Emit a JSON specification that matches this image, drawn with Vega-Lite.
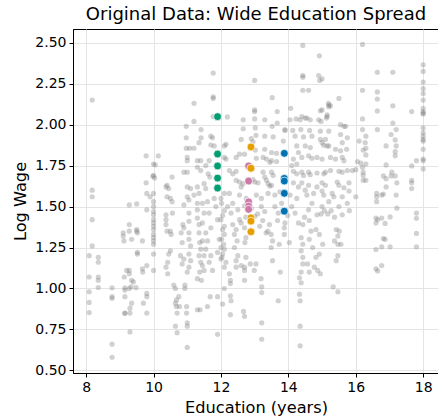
{
"$schema": "https://vega.github.io/schema/vega-lite/v6.json",
"width": 366, "height": 344,
"autosize": {"type": "none"},
"padding": {"left": 73, "top": 29, "right": 0, "bottom": 46},
"title": {"text": "Original Data: Wide Education Spread", "font": "DejaVu Sans", "fontSize": 18, "fontWeight": "normal", "color": "black", "offset": 5, "anchor": "middle"},
"config": {
 "view": {"stroke": "black", "strokeWidth": 1},
 "axis": {"labelFont": "DejaVu Sans", "labelFontSize": 14, "labelColor": "black", "titleFont": "DejaVu Sans", "titleFontSize": 16.2, "titleFontWeight": "normal", "titleColor": "black", "domainColor": "black", "tickColor": "black", "tickSize": 4, "gridColor": "#e4e4e4", "gridWidth": 1}
},
"datasets": {
 "gray": [
{"educ":8.18,"lw":2.15},{"educ":8.18,"lw":1.60},{"educ":8.18,"lw":1.56},{"educ":8.18,"lw":1.42},{"educ":8.18,"lw":1.26},
{"educ":8.09,"lw":1.20},{"educ":8.09,"lw":1.07},{"educ":8.09,"lw":0.98},{"educ":8.09,"lw":0.915},{"educ":8.09,"lw":0.853},
{"educ":8.36,"lw":1.19},{"educ":8.36,"lw":1.16},{"educ":8.36,"lw":1.07},{"educ":8.36,"lw":1.05},{"educ":8.36,"lw":1.006},
{"educ":8.77,"lw":1.004},{"educ":8.77,"lw":0.95},{"educ":8.77,"lw":0.94},{"educ":8.77,"lw":0.66},{"educ":8.77,"lw":0.58},
{"educ":9.15,"lw":1.004},{"educ":9.15,"lw":0.95},{"educ":9.15,"lw":0.85},{"educ":9.13,"lw":1.07},{"educ":9.2,"lw":1.11},
{"educ":9.28,"lw":1.51},{"educ":9.5,"lw":1.516},{"educ":9.28,"lw":1.39},{"educ":9.28,"lw":1.35},{"educ":9.1,"lw":1.34},
{"educ":9.1,"lw":1.32},{"educ":9.12,"lw":1.29},{"educ":9.35,"lw":1.30},{"educ":9.5,"lw":1.36},{"educ":9.5,"lw":1.35},
{"educ":9.52,"lw":1.34},{"educ":9.67,"lw":1.29},{"educ":9.52,"lw":1.22},{"educ":9.52,"lw":1.21},{"educ":9.28,"lw":1.11},
{"educ":9.28,"lw":1.09},{"educ":9.35,"lw":1.05},{"educ":9.4,"lw":1.04},{"educ":9.33,"lw":1.01},{"educ":9.15,"lw":0.99},
{"educ":9.28,"lw":1.0},{"educ":9.48,"lw":1.005},{"educ":9.35,"lw":0.91},{"educ":9.3,"lw":0.88},{"educ":9.3,"lw":0.85},
{"educ":9.15,"lw":0.848},{"educ":9.3,"lw":0.735},{"educ":9.67,"lw":1.12},{"educ":9.68,"lw":1.10},{"educ":9.8,"lw":1.14},
{"educ":9.8,"lw":0.97},{"educ":9.8,"lw":0.95},{"educ":9.7,"lw":0.91},{"educ":9.8,"lw":0.85},{"educ":9.8,"lw":1.48},
{"educ":9.78,"lw":1.81},{"educ":9.78,"lw":1.645},{"educ":9.8,"lw":1.58},{"educ":9.9,"lw":1.56},
{"educ":10.0,"lw":1.53},{"educ":10.0,"lw":1.50},{"educ":10.0,"lw":1.47},{"educ":10.0,"lw":1.45},{"educ":10.0,"lw":1.42},
{"educ":10.0,"lw":1.40},{"educ":10.0,"lw":1.38},{"educ":10.0,"lw":1.36},{"educ":10.0,"lw":1.33},{"educ":10.0,"lw":1.31},
{"educ":10.0,"lw":1.29},{"educ":10.0,"lw":1.27},{"educ":10.0,"lw":1.21},{"educ":10.0,"lw":1.11},{"educ":10.14,"lw":1.81},
{"educ":10.0,"lw":1.76},{"educ":10.05,"lw":1.755},{"educ":10.0,"lw":1.69},{"educ":9.98,"lw":1.685},{"educ":10.03,"lw":1.675},
{"educ":10.0,"lw":1.58},{"educ":10.4,"lw":1.63},{"educ":10.45,"lw":1.61},{"educ":10.37,"lw":1.62},{"educ":10.4,"lw":1.56},
{"educ":10.5,"lw":1.55},{"educ":10.55,"lw":1.68},{"educ":10.37,"lw":1.45},{"educ":10.37,"lw":1.42},{"educ":10.37,"lw":1.39},
{"educ":10.4,"lw":1.35},{"educ":10.5,"lw":1.35},{"educ":10.52,"lw":1.33},{"educ":10.55,"lw":1.53},{"educ":10.56,"lw":1.46},
{"educ":10.5,"lw":1.23},{"educ":10.45,"lw":1.21},{"educ":10.42,"lw":1.16},{"educ":10.37,"lw":1.13},{"educ":10.42,"lw":1.09},
{"educ":10.6,"lw":1.02},{"educ":10.65,"lw":1.0},{"educ":10.68,"lw":0.93},{"educ":10.65,"lw":0.91},{"educ":10.68,"lw":0.89},
{"educ":10.7,"lw":0.85},{"educ":10.65,"lw":0.77},{"educ":10.7,"lw":0.73},{"educ":10.75,"lw":0.95},{"educ":10.77,"lw":0.89},
{"educ":10.87,"lw":1.39},{"educ":10.9,"lw":1.37},{"educ":10.82,"lw":1.34},{"educ":10.85,"lw":1.28},{"educ":10.8,"lw":1.20},
{"educ":10.9,"lw":1.18},{"educ":10.85,"lw":1.15},{"educ":10.93,"lw":1.02},{"educ":10.93,"lw":1.0},{"educ":10.98,"lw":0.89},
{"educ":10.98,"lw":0.85},{"educ":11.0,"lw":0.79},{"educ":11.0,"lw":0.77},{"educ":11.0,"lw":0.64},{"educ":11.05,"lw":1.54},
{"educ":10.9,"lw":1.51},{"educ":11.05,"lw":1.46},{"educ":11.05,"lw":1.41},{"educ":11.05,"lw":1.34},{"educ":11.05,"lw":1.30},
{"educ":11.1,"lw":1.26},{"educ":11.05,"lw":1.21},{"educ":11.1,"lw":1.17},{"educ":11.05,"lw":1.13},{"educ":11.0,"lw":1.10},
{"educ":10.97,"lw":1.99},{"educ":10.97,"lw":1.92},{"educ":10.97,"lw":1.856},{"educ":11.07,"lw":1.856},{"educ":11.0,"lw":1.80},
{"educ":11.0,"lw":1.78},{"educ":10.9,"lw":1.71},{"educ":11.0,"lw":1.71},{"educ":11.2,"lw":1.856},{"educ":11.2,"lw":2.13},
{"educ":11.2,"lw":2.02},{"educ":11.3,"lw":1.48},{"educ":11.3,"lw":1.43},{"educ":11.35,"lw":1.39},{"educ":11.35,"lw":1.34},
{"educ":11.37,"lw":1.28},{"educ":11.4,"lw":1.24},{"educ":11.35,"lw":1.20},{"educ":11.4,"lw":1.16},{"educ":11.37,"lw":1.10},
{"educ":11.3,"lw":1.06},{"educ":11.42,"lw":1.05},{"educ":11.3,"lw":0.87},{"educ":11.38,"lw":0.87},{"educ":11.45,"lw":1.52},
{"educ":11.5,"lw":1.46},{"educ":11.45,"lw":1.40},{"educ":11.55,"lw":1.34},{"educ":11.45,"lw":1.29},{"educ":11.55,"lw":1.24},
{"educ":11.5,"lw":1.20},{"educ":11.45,"lw":1.14},{"educ":11.5,"lw":1.11},{"educ":11.65,"lw":1.46},{"educ":11.7,"lw":1.37},
{"educ":11.6,"lw":1.29},{"educ":11.7,"lw":1.20},{"educ":11.65,"lw":1.16},{"educ":11.75,"lw":1.11},{"educ":11.68,"lw":0.95},
{"educ":11.6,"lw":0.89},{"educ":11.9,"lw":0.95},{"educ":11.9,"lw":0.72},{"educ":11.9,"lw":1.42},{"educ":11.95,"lw":1.30},
{"educ":11.9,"lw":1.22},{"educ":12.0,"lw":1.18},{"educ":11.41,"lw":1.97},{"educ":11.41,"lw":1.92},{"educ":11.35,"lw":1.89},
{"educ":11.7,"lw":1.93},{"educ":11.75,"lw":1.92},{"educ":11.3,"lw":1.78},{"educ":11.4,"lw":1.78},{"educ":11.65,"lw":1.78},
{"educ":11.7,"lw":1.876},{"educ":11.8,"lw":1.87},{"educ":11.3,"lw":1.74},{"educ":11.4,"lw":1.72},{"educ":11.55,"lw":1.75},
{"educ":11.62,"lw":1.70},{"educ":11.67,"lw":1.68},{"educ":11.0,"lw":1.62},{"educ":11.1,"lw":1.61},{"educ":11.3,"lw":1.62},
{"educ":11.5,"lw":1.64},{"educ":11.55,"lw":1.61},{"educ":11.0,"lw":1.56},{"educ":11.2,"lw":1.57},{"educ":11.35,"lw":1.58},
{"educ":11.77,"lw":2.315},{"educ":11.77,"lw":2.17},{"educ":11.77,"lw":2.16},{"educ":11.77,"lw":2.05},{"educ":11.3,"lw":1.52},
{"educ":11.6,"lw":1.53},{"educ":11.8,"lw":1.55},{"educ":11.85,"lw":1.50},
{"educ":14.43,"lw":2.484},{"educ":16.2,"lw":2.49},{"educ":14.92,"lw":2.42},{"educ":14.43,"lw":2.30},{"educ":14.43,"lw":2.29},
{"educ":14.9,"lw":2.30},{"educ":15.0,"lw":2.28},{"educ":14.93,"lw":2.27},{"educ":13.0,"lw":2.27},{"educ":14.43,"lw":2.21},
{"educ":14.6,"lw":2.21},{"educ":16.2,"lw":2.21},{"educ":13.52,"lw":2.165},{"educ":15.5,"lw":2.16},{"educ":14.07,"lw":2.10},
{"educ":15.2,"lw":2.11},{"educ":15.25,"lw":2.115},{"educ":14.95,"lw":2.085},{"educ":15.0,"lw":2.09},{"educ":13.0,"lw":2.09},
{"educ":13.0,"lw":2.08},{"educ":13.67,"lw":2.08},{"educ":12.19,"lw":2.047},{"educ":14.4,"lw":2.05},{"educ":14.5,"lw":2.04},
{"educ":14.65,"lw":2.03},{"educ":15.15,"lw":2.06},{"educ":15.15,"lw":2.05},{"educ":15.13,"lw":2.04},{"educ":14.9,"lw":2.03},
{"educ":14.97,"lw":2.02},{"educ":12.66,"lw":2.03},{"educ":13.0,"lw":2.035},{"educ":13.3,"lw":2.03},{"educ":13.67,"lw":2.01},
{"educ":14.23,"lw":2.035},{"educ":15.55,"lw":2.0},{"educ":15.7,"lw":1.99},{"educ":15.65,"lw":1.99},{"educ":16.2,"lw":2.035},
{"educ":13.52,"lw":1.99},{"educ":13.02,"lw":1.98},{"educ":12.66,"lw":1.975},{"educ":13.9,"lw":1.97},{"educ":13.9,"lw":1.965},
{"educ":14.13,"lw":1.965},{"educ":14.37,"lw":1.97},{"educ":14.63,"lw":1.965},{"educ":14.95,"lw":1.96},{"educ":15.2,"lw":1.96},
{"educ":16.3,"lw":1.93},{"educ":13.04,"lw":1.935},{"educ":13.3,"lw":1.93},{"educ":13.55,"lw":1.925},{"educ":14.2,"lw":1.93},
{"educ":14.45,"lw":1.925},{"educ":14.7,"lw":1.93},{"educ":14.95,"lw":1.91},{"educ":15.1,"lw":1.91},{"educ":15.0,"lw":1.89},
{"educ":12.6,"lw":1.91},{"educ":12.9,"lw":1.915},{"educ":12.95,"lw":1.895},{"educ":13.85,"lw":1.90},{"educ":12.15,"lw":1.88},
{"educ":12.1,"lw":1.87},{"educ":14.25,"lw":1.87},{"educ":14.5,"lw":1.87},{"educ":14.65,"lw":1.86},{"educ":15.15,"lw":1.87},
{"educ":15.05,"lw":1.875},{"educ":15.2,"lw":1.87},{"educ":15.4,"lw":1.85},{"educ":15.55,"lw":1.84},{"educ":15.73,"lw":1.85},
{"educ":16.1,"lw":1.90},{"educ":16.28,"lw":1.89},{"educ":13.3,"lw":1.85},{"educ":13.02,"lw":1.845},{"educ":13.5,"lw":1.83},
{"educ":13.65,"lw":1.825},{"educ":14.3,"lw":1.83},{"educ":14.6,"lw":1.81},{"educ":14.4,"lw":1.80},{"educ":14.7,"lw":1.795},
{"educ":12.1,"lw":1.80},{"educ":12.15,"lw":1.79},{"educ":12.45,"lw":1.80},{"educ":12.55,"lw":1.82},{"educ":12.7,"lw":1.82},
{"educ":13.05,"lw":1.795},{"educ":13.25,"lw":1.80},{"educ":13.35,"lw":1.79},{"educ":13.5,"lw":1.78},{"educ":13.65,"lw":1.775},
{"educ":13.45,"lw":1.77},{"educ":14.15,"lw":1.79},{"educ":14.25,"lw":1.76},{"educ":14.1,"lw":1.75},{"educ":14.85,"lw":1.80},
{"educ":15.0,"lw":1.79},{"educ":15.25,"lw":1.80},{"educ":15.4,"lw":1.79},{"educ":15.6,"lw":1.80},{"educ":15.65,"lw":1.78},
{"educ":16.05,"lw":1.775},{"educ":16.15,"lw":1.765},{"educ":12.25,"lw":1.72},{"educ":12.45,"lw":1.715},{"educ":12.35,"lw":1.70},
{"educ":13.25,"lw":1.71},{"educ":13.3,"lw":1.68},{"educ":13.35,"lw":1.66},{"educ":13.5,"lw":1.71},{"educ":13.55,"lw":1.69},
{"educ":14.15,"lw":1.715},{"educ":14.25,"lw":1.70},{"educ":14.4,"lw":1.71},{"educ":14.45,"lw":1.69},{"educ":14.6,"lw":1.71},
{"educ":14.65,"lw":1.695},{"educ":14.85,"lw":1.705},{"educ":15.05,"lw":1.70},{"educ":15.1,"lw":1.71},{"educ":15.25,"lw":1.72},
{"educ":15.5,"lw":1.715},{"educ":15.6,"lw":1.71},{"educ":15.75,"lw":1.72},{"educ":15.9,"lw":1.72},{"educ":16.0,"lw":1.725},
{"educ":12.45,"lw":1.66},{"educ":12.55,"lw":1.65},{"educ":12.65,"lw":1.64},{"educ":12.6,"lw":1.62},{"educ":12.95,"lw":1.665},
{"educ":13.0,"lw":1.65},{"educ":13.1,"lw":1.645},{"educ":13.4,"lw":1.64},{"educ":13.45,"lw":1.625},{"educ":13.5,"lw":1.63},
{"educ":14.15,"lw":1.645},{"educ":14.3,"lw":1.62},{"educ":14.4,"lw":1.645},{"educ":14.5,"lw":1.60},{"educ":14.6,"lw":1.63},
{"educ":14.85,"lw":1.62},{"educ":15.0,"lw":1.645},{"educ":15.1,"lw":1.63},{"educ":15.0,"lw":1.595},{"educ":15.45,"lw":1.65},
{"educ":15.5,"lw":1.63},{"educ":15.65,"lw":1.615},{"educ":15.8,"lw":1.645},{"educ":15.8,"lw":1.595},
{"educ":15.19,"lw":2.13},{"educ":15.2,"lw":2.12},{"educ":14.05,"lw":2.03},{"educ":14.35,"lw":2.03},{"educ":14.55,"lw":2.04},
{"educ":15.55,"lw":1.94},{"educ":15.75,"lw":1.92},{"educ":15.6,"lw":1.89},
{"educ":12.1,"lw":1.475},{"educ":12.05,"lw":1.445},{"educ":12.1,"lw":1.38},{"educ":12.05,"lw":1.36},{"educ":12.1,"lw":1.33},
{"educ":12.08,"lw":1.27},{"educ":12.1,"lw":1.24},{"educ":12.05,"lw":1.21},{"educ":12.15,"lw":1.16},{"educ":12.1,"lw":1.13},
{"educ":12.25,"lw":1.09},{"educ":12.28,"lw":1.05},{"educ":12.28,"lw":1.03},{"educ":12.1,"lw":1.0},{"educ":12.28,"lw":0.955},
{"educ":12.3,"lw":0.925},{"educ":12.05,"lw":0.905},{"educ":12.28,"lw":0.84},{"educ":12.0,"lw":1.55},{"educ":12.02,"lw":1.52},
{"educ":12.0,"lw":1.42},{"educ":12.02,"lw":1.30},{"educ":12.0,"lw":1.25},{"educ":12.03,"lw":1.19},
{"educ":12.35,"lw":1.39},{"educ":12.4,"lw":1.33},{"educ":12.48,"lw":1.29},{"educ":12.4,"lw":1.25},{"educ":12.5,"lw":1.20},
{"educ":12.45,"lw":1.17},{"educ":12.45,"lw":1.13},{"educ":12.6,"lw":1.14},{"educ":12.7,"lw":1.505},{"educ":12.74,"lw":1.435},
{"educ":12.7,"lw":1.37},{"educ":12.74,"lw":1.31},{"educ":12.71,"lw":1.28},{"educ":12.74,"lw":1.19},{"educ":12.7,"lw":1.13},
{"educ":12.7,"lw":1.11},{"educ":12.7,"lw":1.05},{"educ":12.67,"lw":0.86},{"educ":12.7,"lw":0.83},{"educ":12.87,"lw":1.15},
{"educ":13.04,"lw":1.15},{"educ":12.99,"lw":1.11},{"educ":13.19,"lw":1.06},{"educ":13.21,"lw":1.01},{"educ":13.21,"lw":0.975},
{"educ":13.21,"lw":0.79},{"educ":13.21,"lw":0.69},{"educ":13.09,"lw":1.455},{"educ":13.24,"lw":1.415},{"educ":13.39,"lw":1.35},
{"educ":13.49,"lw":1.33},{"educ":13.53,"lw":1.29},{"educ":13.49,"lw":1.25},{"educ":13.53,"lw":1.17},{"educ":13.34,"lw":1.34},
{"educ":13.44,"lw":1.39},{"educ":13.7,"lw":0.925},{"educ":13.76,"lw":1.10},{"educ":13.73,"lw":1.27},{"educ":13.88,"lw":1.33},
{"educ":14.03,"lw":1.28},{"educ":13.88,"lw":1.37},{"educ":13.68,"lw":1.415},{"educ":13.98,"lw":1.445},
{"educ":14.33,"lw":1.065},{"educ":14.38,"lw":1.035},{"educ":14.33,"lw":0.965},{"educ":14.35,"lw":0.925},{"educ":14.35,"lw":0.77},
{"educ":14.35,"lw":0.65},{"educ":14.38,"lw":1.10},{"educ":14.43,"lw":1.15},{"educ":14.43,"lw":1.19},{"educ":14.38,"lw":1.23},
{"educ":14.43,"lw":1.27},{"educ":14.38,"lw":1.31},{"educ":14.43,"lw":1.39},{"educ":14.48,"lw":1.435},{"educ":14.62,"lw":1.415},
{"educ":14.67,"lw":1.35},{"educ":14.62,"lw":1.30},{"educ":14.72,"lw":1.25},{"educ":14.57,"lw":1.15},{"educ":14.62,"lw":1.10},
{"educ":14.77,"lw":1.13},{"educ":14.82,"lw":1.19},{"educ":14.92,"lw":1.21},{"educ":14.87,"lw":1.11},{"educ":14.95,"lw":1.09},
{"educ":14.97,"lw":1.455},{"educ":15.07,"lw":1.475},{"educ":15.17,"lw":1.455},{"educ":14.92,"lw":1.33},{"educ":15.02,"lw":1.27},
{"educ":14.82,"lw":1.36},{"educ":15.27,"lw":1.475},{"educ":15.37,"lw":1.435},{"educ":15.42,"lw":1.36},{"educ":15.37,"lw":1.29},
{"educ":15.47,"lw":1.27},{"educ":15.47,"lw":1.20},{"educ":15.42,"lw":1.17},{"educ":15.33,"lw":1.01},{"educ":15.47,"lw":0.98},
{"educ":15.51,"lw":1.35},{"educ":15.47,"lw":1.32},{"educ":15.56,"lw":1.27},{"educ":15.81,"lw":1.475},
{"educ":12.2,"lw":1.50},{"educ":12.3,"lw":1.46},{"educ":12.35,"lw":1.52},{"educ":12.5,"lw":1.48},{"educ":12.55,"lw":1.42},
{"educ":12.6,"lw":1.40},{"educ":12.45,"lw":1.36},{"educ":12.9,"lw":1.49},{"educ":13.0,"lw":1.44},{"educ":13.15,"lw":1.38},
{"educ":13.2,"lw":1.50},{"educ":13.3,"lw":1.47},{"educ":13.6,"lw":1.50},{"educ":13.7,"lw":1.46},{"educ":13.8,"lw":1.52},
{"educ":13.9,"lw":1.40},{"educ":14.1,"lw":1.50},{"educ":14.2,"lw":1.46},{"educ":14.3,"lw":1.40},{"educ":14.6,"lw":1.48},
{"educ":14.7,"lw":1.52},{"educ":14.85,"lw":1.45},{"educ":15.0,"lw":1.50},{"educ":15.2,"lw":1.53},{"educ":15.35,"lw":1.56},
{"educ":15.5,"lw":1.50},{"educ":15.6,"lw":1.45},{"educ":15.75,"lw":1.52},{"educ":16.0,"lw":1.56},{"educ":12.1,"lw":1.58},
{"educ":12.25,"lw":1.58},{"educ":12.55,"lw":1.57},{"educ":12.75,"lw":1.55},{"educ":13.05,"lw":1.57},{"educ":13.2,"lw":1.55},
{"educ":13.4,"lw":1.58},{"educ":13.6,"lw":1.57},{"educ":13.75,"lw":1.59},{"educ":14.05,"lw":1.57},{"educ":14.25,"lw":1.55},
{"educ":14.55,"lw":1.57},{"educ":14.75,"lw":1.58},{"educ":15.05,"lw":1.57},{"educ":15.3,"lw":1.58},{"educ":15.6,"lw":1.56},
{"educ":16.64,"lw":2.32},{"educ":17.1,"lw":2.32},{"educ":16.64,"lw":2.20},{"educ":16.64,"lw":2.156},{"educ":16.64,"lw":2.084},
{"educ":17.1,"lw":2.115},{"educ":17.66,"lw":2.08},
{"educ":18.0,"lw":2.365},{"educ":18.0,"lw":2.325},{"educ":18.0,"lw":2.26},{"educ":18.0,"lw":2.19},{"educ":18.0,"lw":2.15},
{"educ":18.0,"lw":2.08},{"educ":18.0,"lw":2.07},{"educ":18.0,"lw":2.065},{"educ":18.0,"lw":1.98},{"educ":18.0,"lw":1.93},
{"educ":18.0,"lw":1.91},{"educ":18.0,"lw":1.90},{"educ":18.0,"lw":1.85},{"educ":18.0,"lw":1.79},{"educ":18.0,"lw":1.78},
{"educ":18.0,"lw":1.73},{"educ":18.0,"lw":2.22},{"educ":18.0,"lw":2.10},{"educ":18.0,"lw":1.95},
{"educ":16.2,"lw":1.97},{"educ":16.3,"lw":1.856},{"educ":16.3,"lw":1.815},{"educ":16.3,"lw":1.76},{"educ":16.3,"lw":1.66},
{"educ":16.22,"lw":1.845},{"educ":16.2,"lw":1.74},{"educ":16.22,"lw":1.71},{"educ":16.22,"lw":1.66},{"educ":16.22,"lw":1.69},
{"educ":16.64,"lw":1.97},{"educ":16.9,"lw":1.87},{"educ":17.1,"lw":2.01},{"educ":17.2,"lw":1.97},{"educ":17.05,"lw":1.94},
{"educ":17.17,"lw":1.907},{"educ":17.2,"lw":1.87},{"educ":17.17,"lw":1.835},{"educ":17.17,"lw":1.81},
{"educ":16.9,"lw":1.754},{"educ":16.82,"lw":1.687},{"educ":16.9,"lw":1.67},{"educ":17.07,"lw":1.71},{"educ":17.05,"lw":1.687},
{"educ":17.17,"lw":1.687},{"educ":16.9,"lw":1.62},{"educ":16.82,"lw":1.576},{"educ":16.77,"lw":1.57},{"educ":17.2,"lw":1.57},
{"educ":17.22,"lw":1.645},{"educ":17.22,"lw":1.49},{"educ":16.62,"lw":1.58},{"educ":16.62,"lw":1.56},{"educ":16.62,"lw":1.53},
{"educ":17.66,"lw":1.748},{"educ":17.66,"lw":1.66},{"educ":17.66,"lw":1.645},{"educ":17.66,"lw":1.61},{"educ":17.8,"lw":1.78},
{"educ":16.6,"lw":1.43},{"educ":16.65,"lw":1.42},{"educ":16.6,"lw":1.40},{"educ":16.77,"lw":1.43},{"educ":16.87,"lw":1.397},
{"educ":17.02,"lw":1.437},{"educ":16.82,"lw":1.305},{"educ":16.87,"lw":1.30},{"educ":16.77,"lw":1.254},{"educ":17.02,"lw":1.254},
{"educ":16.6,"lw":1.238},{"educ":16.6,"lw":1.12},{"educ":16.65,"lw":1.107},{"educ":16.77,"lw":1.14},
{"educ":17.8,"lw":1.46},{"educ":17.8,"lw":1.428},{"educ":17.8,"lw":1.336},{"educ":17.8,"lw":1.254}
 ],
 "hl": [
{"educ":11.9,"lw":2.049,"g":"a"},{"educ":11.9,"lw":1.821,"g":"a"},{"educ":11.9,"lw":1.748,"g":"a"},{"educ":11.9,"lw":1.674,"g":"a"},{"educ":11.9,"lw":1.613,"g":"a"},
{"educ":12.82,"lw":1.748,"g":"b"},{"educ":12.82,"lw":1.656,"g":"b"},{"educ":12.82,"lw":1.529,"g":"b"},{"educ":12.82,"lw":1.503,"g":"b"},{"educ":12.82,"lw":1.483,"g":"b"},
{"educ":12.89,"lw":1.864,"g":"c"},{"educ":12.89,"lw":1.734,"g":"c"},{"educ":12.89,"lw":1.431,"g":"c"},{"educ":12.89,"lw":1.411,"g":"c"},{"educ":12.89,"lw":1.346,"g":"c"},
{"educ":13.88,"lw":1.825,"g":"d"},{"educ":13.88,"lw":1.672,"g":"d"},{"educ":13.88,"lw":1.656,"g":"d"},{"educ":13.88,"lw":1.581,"g":"d"},{"educ":13.88,"lw":1.472,"g":"d"}
 ]
},
"layer": [
 {"data": {"name": "gray"},
  "mark": {"type": "circle", "size": 27, "color": "#808080", "opacity": 0.36},
  "encoding": {
   "x": {"field": "educ", "type": "quantitative", "scale": {"domain": [7.61, 18.47], "nice": false, "zero": false}, "axis": {"title": "Education (years)", "values": [8,10,12,14,16,18], "labelPadding": 3, "titlePadding": 5, "grid": true}},
   "y": {"field": "lw", "type": "quantitative", "scale": {"domain": [0.484, 2.584], "nice": false, "zero": false}, "axis": {"title": "Log Wage", "values": [0.5,0.75,1.0,1.25,1.5,1.75,2.0,2.25,2.5], "format": ".2f", "labelPadding": 3, "titlePadding": 6, "grid": true}}
  }},
 {"data": {"name": "hl"},
  "mark": {"type": "circle", "size": 62, "opacity": 1, "stroke": "white", "strokeWidth": 0.7},
  "encoding": {
   "x": {"field": "educ", "type": "quantitative"},
   "y": {"field": "lw", "type": "quantitative"},
   "color": {"field": "g", "type": "nominal", "scale": {"domain": ["a","b","c","d"], "range": ["#009E73","#CC79A7","#E69F00","#0072B2"]}, "legend": null}
  }}
]
}
